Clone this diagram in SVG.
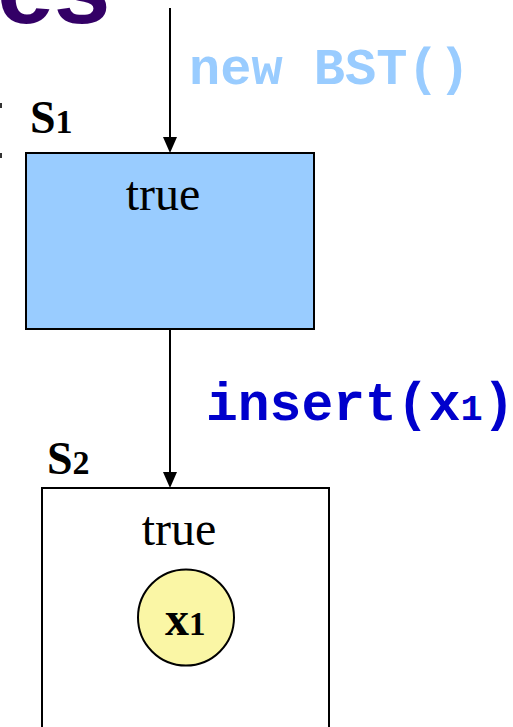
<svg xmlns="http://www.w3.org/2000/svg" width="513" height="727" viewBox="0 0 513 727">
  <style>
    .title { font-family: "Liberation Sans", Arial, sans-serif; font-weight: bold; fill: #330066; }
    .state { font-family: "Liberation Serif", "Times New Roman", serif; font-weight: bold; fill: #000; }
    .cond { font-family: "Liberation Serif", "Times New Roman", serif; fill: #000; font-size: 48px; text-anchor: middle; }
    .op { font-family: "Liberation Mono", "Courier New", monospace; font-weight: bold; }
    .box { stroke: #000; stroke-width: 2; }
    .edge { stroke: #000; stroke-width: 2; fill: none; }
    .head { fill: #000; }
  </style>

  <!-- heading fragment -->
  <text class="title" x="-3" y="23" font-size="102">es</text>
  <rect x="0" y="103" width="2" height="5" fill="#333"/>
  <rect x="0" y="153" width="2" height="5" fill="#333"/>

  <!-- transitions -->
  <g id="connectors">
    <line class="edge" x1="170" y1="8" x2="170" y2="140"/>
    <polygon class="head" points="170,153 163,137 177,137"/>
    <line class="edge" x1="170" y1="329" x2="170" y2="475"/>
    <polygon class="head" points="170,488 163,472 177,472"/>
    <text class="op" x="189" y="84" font-size="52" fill="#99ccff">new BST()</text>
    <text class="op" x="206" y="420" font-size="53" fill="#0000cc">insert(x<tspan font-size="37">1</tspan>)</text>
  </g>

  <!-- state S1: empty tree -->
  <g id="s1">
    <rect class="box" x="26" y="153" width="288" height="176" fill="#99ccff"/>
    <text class="state" x="30" y="133" font-size="46">S<tspan font-size="34">1</tspan></text>
    <text class="cond" x="163" y="210">true</text>
  </g>

  <!-- state S2: tree with one node -->
  <g id="s2">
    <rect class="box" x="42" y="488" width="287" height="260" fill="#ffffff"/>
    <text class="state" x="47" y="474" font-size="46">S<tspan font-size="34">2</tspan></text>
    <text class="cond" x="179" y="545">true</text>
  </g>

  <g id="node-x1">
    <circle cx="186" cy="617.5" r="48" fill="#faf6a5" stroke="#000" stroke-width="2"/>
    <text class="state" x="165" y="635" font-size="48">x<tspan font-size="33">1</tspan></text>
  </g>
</svg>
